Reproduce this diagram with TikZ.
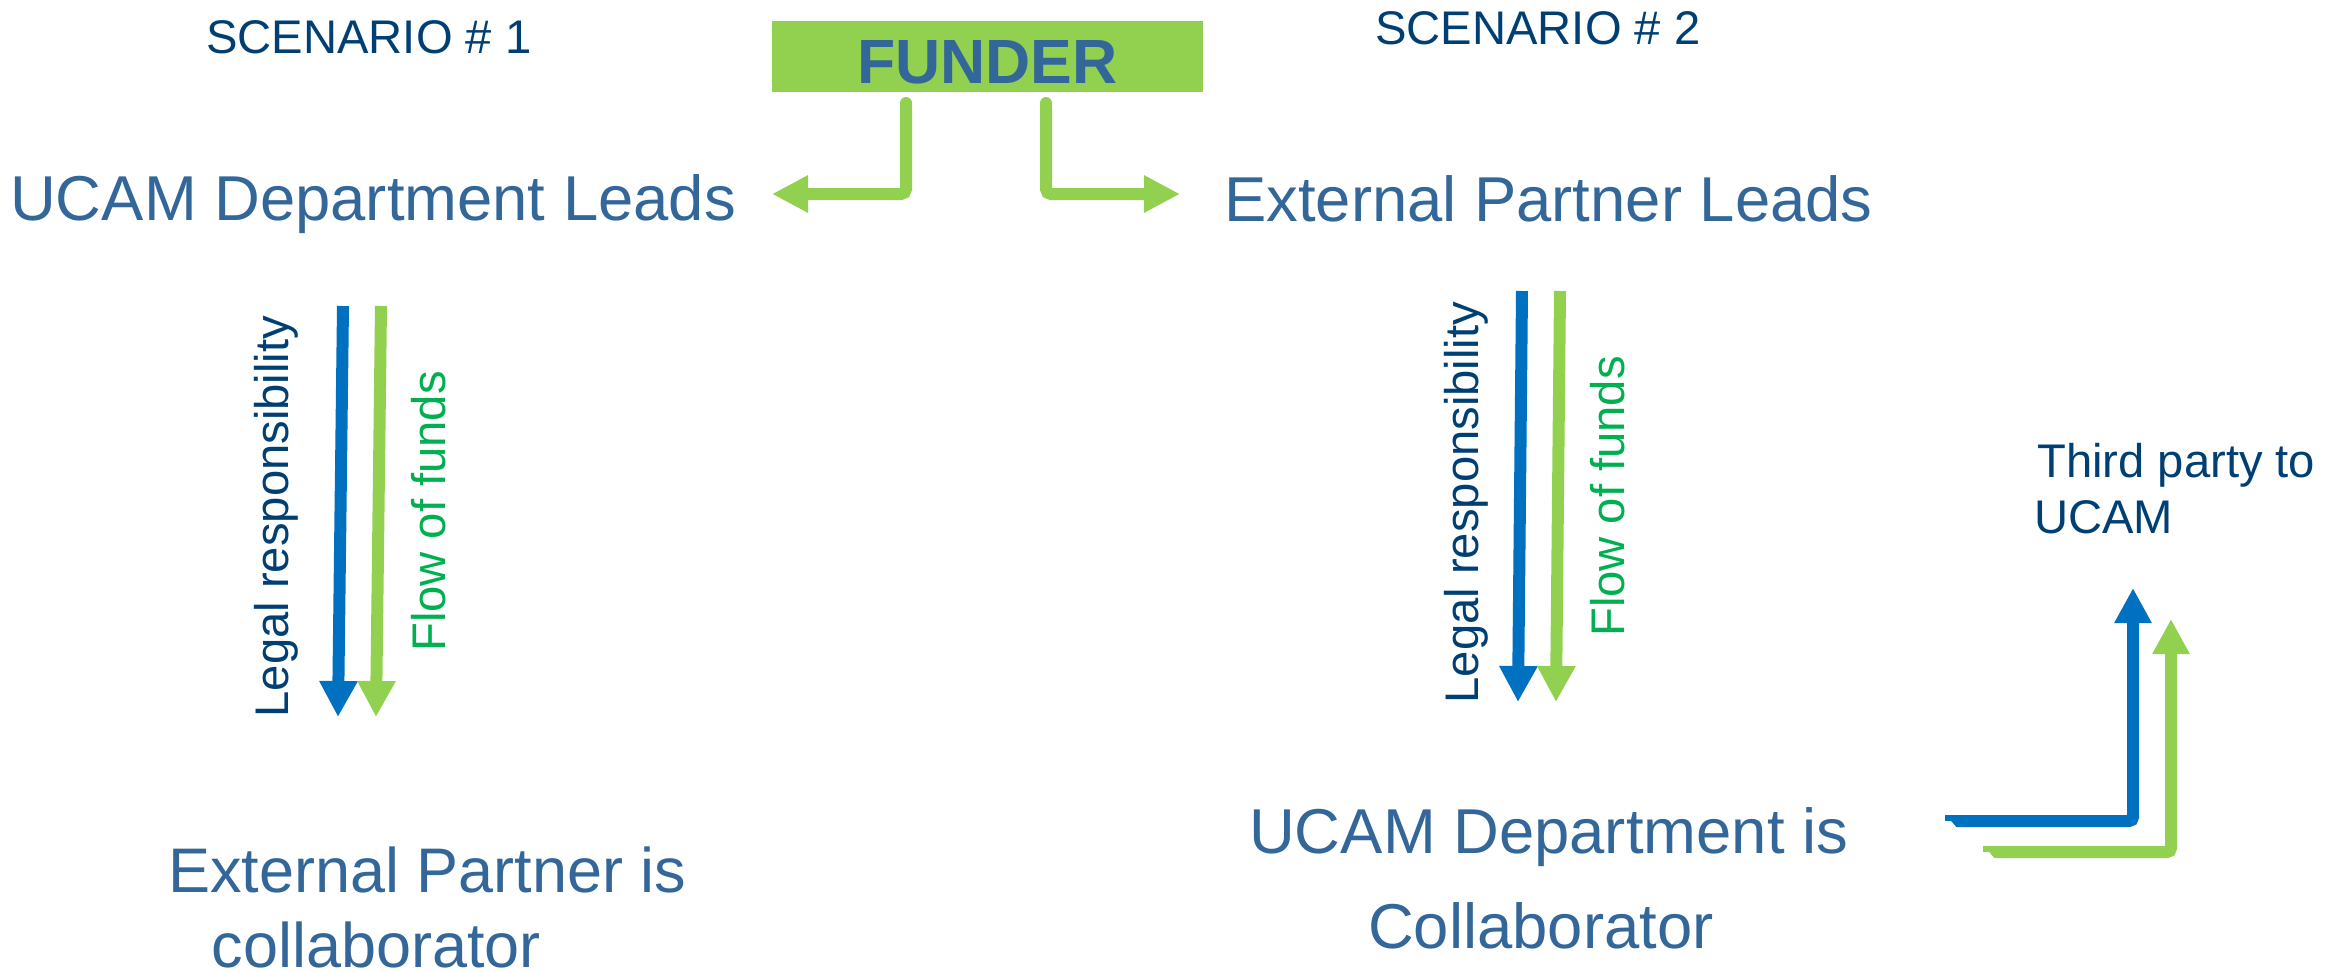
\documentclass[tikz,border=0pt]{standalone}
\usepackage{fontspec}
\setmainfont{Liberation Sans}
\usetikzlibrary{arrows.meta}

\definecolor{fundgreen}{HTML}{92D050}
\definecolor{legalblue}{HTML}{0070C0}
\definecolor{fundtext}{HTML}{00B050}
\definecolor{navy}{HTML}{003F73}
\definecolor{midblue}{HTML}{336699}

\tikzset{
  txt/.style={inner sep=0pt, anchor=base west},
  smalltxt/.style={txt, text=navy, font=\fontsize{47.2}{57}\selectfont},
  leadtxt/.style={txt, text=midblue, font=\fontsize{63.4}{76}\selectfont},
  fundlbl/.style={txt, text=fundtext, font=\fontsize{47.2}{57}\selectfont},
  vbar/.style={line width=12pt, -{Triangle[width=36pt,length=36pt]}},
  elbow/.style={line width=12pt, color=fundgreen, rounded corners=5pt, line cap=round,
                -{Triangle[width=35pt,length=36pt]}},
  lbar/.style={line width=12pt, rounded corners=4pt, -{Triangle[width=35pt,length=35pt]}},
  funderbox/.style={fill=fundgreen, text=midblue, inner sep=0pt, minimum width=431pt,
                    text height=62pt, text depth=9pt,
                    font=\fontsize{62.5}{75}\selectfont\bfseries}
}

\begin{document}
\begin{tikzpicture}[x=1pt,y=-1pt]
  \path[use as bounding box] (0,0) rectangle (2346,972);

  % headings
  \node[smalltxt] (sc1) at (206,53) {SCENARIO \# 1};
  \node[smalltxt] (sc2) at (1375,44) {SCENARIO \# 2};

  % funder
  \node[funderbox] (funder) at (987.5,56.5) {FUNDER};

  % lead organisations
  \node[leadtxt] (ucamlead) at (10,220) {UCAM Department Leads};
  \node[leadtxt] (extlead) at (1224,221) {External Partner Leads};

  % collaborators
  \node[leadtxt, font=\fontsize{63}{76}\selectfont] (extcol) at (168,892) {External Partner is};
  \node[leadtxt, font=\fontsize{63}{76}\selectfont, text depth=0pt] (extcolb) at (211.5,967) {collaborator};
  \node[leadtxt] (ucamcol) at (1249,853) {UCAM Department is};
  \node[leadtxt] (ucamcolb) at (1368,948) {Collaborator};

  % third party
  \node[smalltxt] (third) at (2037,477) {Third party to};
  \node[smalltxt] (thirdb) at (2034,533) {UCAM};

  % vertical labels
  \node[smalltxt, rotate=90] (legal1) at (288,717.5) {Legal responsibility};
  \node[fundlbl, rotate=90] (flow1) at (445,652) {Flow of funds};
  \node[smalltxt, rotate=90] (legal2) at (1478,703.5) {Legal responsibility};
  \node[fundlbl, rotate=90] (flow2) at (1624,637) {Flow of funds};

  % arrow end points
  \coordinate (fL0) at (906,103);  \coordinate (fL1) at (906,194);  \coordinate (fL2) at (772,194);
  \coordinate (fR0) at (1046,103); \coordinate (fR1) at (1046,194); \coordinate (fR2) at (1180,194);
  \coordinate (a1b0) at (343,306);  \coordinate (a1b1) at (338,717);
  \coordinate (a1g0) at (381,306);  \coordinate (a1g1) at (376,717);
  \coordinate (a2b0) at (1522,291); \coordinate (a2b1) at (1518,702);
  \coordinate (a2g0) at (1560,291); \coordinate (a2g1) at (1556,702);
  \coordinate (tb0) at (1945,821); \coordinate (tb1) at (2133,821); \coordinate (tb2) at (2133,588);
  \coordinate (tg0) at (1983,852); \coordinate (tg1) at (2171,852); \coordinate (tg2) at (2171,619);

  % funder to leads
  \draw[elbow] (fL0) -- (fL1) -- (fL2);
  \draw[elbow] (fR0) -- (fR1) -- (fR2);

  % lead to collaborator
  \draw[vbar, legalblue] (a1b0) -- (a1b1);
  \draw[vbar, fundgreen] (a1g0) -- (a1g1);
  \draw[vbar, legalblue] (a2b0) -- (a2b1);
  \draw[vbar, fundgreen] (a2g0) -- (a2g1);

  % collaborator to third party
  \draw[lbar, legalblue] (tb0) -- (tb1) -- (tb2);
  \draw[lbar, fundgreen] (tg0) -- (tg1) -- (tg2);
  \fill[white] (1940,821) -- (1951,821) -- (1957,828) -- (1940,828) -- cycle;
  \fill[white] (1978,852) -- (1989,852) -- (1995,859) -- (1978,859) -- cycle;
\end{tikzpicture}
\end{document}
